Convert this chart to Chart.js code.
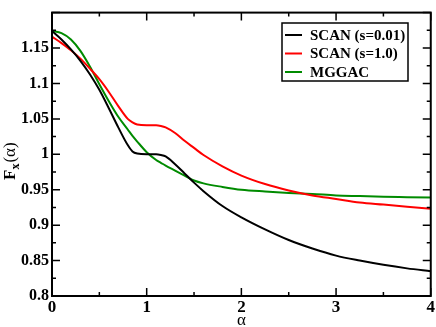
<!DOCTYPE html>
<html>
<head>
<meta charset="utf-8">
<script src="https://cdn.jsdelivr.net/npm/chart.js@4"></script>
<style>
  html, body { margin: 0; padding: 0; background: #fff; }
  canvas { display: block; }
</style>
</head>
<body>
<canvas id="fx" width="436" height="327"></canvas>
<script>
// alpha grid shared by all three curves
var alpha = [0, 0.1, 0.2, 0.3, 0.4, 0.5, 0.6, 0.7, 0.8, 0.85, 0.9, 1.0, 1.1, 1.15, 1.2,
  1.3, 1.4, 1.5, 1.6, 1.8, 2.0, 2.25, 2.5, 2.75, 3.0, 3.25, 3.5, 3.75, 4.0];

// F_x(alpha)
var scanLow = [1.174, 1.162, 1.148, 1.132, 1.113, 1.091, 1.065, 1.038, 1.013, 1.004, 1.001, 1.000, 1.000, 0.999, 0.997,
  0.986, 0.973, 0.960, 0.948, 0.927, 0.911, 0.894, 0.879, 0.867, 0.857, 0.850, 0.844, 0.839, 0.835];
var scanHigh = [1.166, 1.157, 1.147, 1.135, 1.121, 1.106, 1.088, 1.068, 1.050, 1.045, 1.042, 1.041, 1.041, 1.040, 1.038,
  1.030, 1.019, 1.009, 0.999, 0.983, 0.970, 0.958, 0.949, 0.942, 0.937, 0.932, 0.929, 0.926, 0.923];
var mggac = [1.174, 1.171, 1.162, 1.146, 1.124, 1.099, 1.075, 1.053, 1.035, 1.026, 1.018, 1.003, 0.992, 0.988, 0.984,
  0.977, 0.970, 0.963, 0.959, 0.954, 0.950, 0.9475, 0.9455, 0.944, 0.942, 0.941, 0.940, 0.9395, 0.939];

var seriesNames = ['SCAN (s=0.01)', 'SCAN (s=1.0)', 'MGGAC'];
var seriesColors = ['#000000', '#ff0000', '#008b00'];

var serif = "'Liberation Serif', 'Times New Roman', serif";

function pairs(ys) {
  return alpha.map(function (a, i) { return { x: a, y: ys[i] }; });
}

// frame, inward ticks on all four sides, legend box and y title
var decorations = {
  id: 'decorations',
  afterDraw: function (chart) {
    var ctx = chart.ctx;
    var area = chart.chartArea;
    var xs = chart.scales.x, ys = chart.scales.y;
    ctx.save();
    ctx.strokeStyle = '#000';
    ctx.lineWidth = 2;
    ctx.strokeRect(area.left, area.top, area.right - area.left, area.bottom - area.top);

    ctx.lineWidth = 1.5;
    ctx.beginPath();
    var v, p;
    for (v = 0; v <= 4.0001; v += 0.5) {
      p = xs.getPixelForValue(v);
      var lx = (Math.abs(v - Math.round(v)) < 1e-6) ? 8 : 4;
      ctx.moveTo(p, area.bottom); ctx.lineTo(p, area.bottom - lx);
      ctx.moveTo(p, area.top); ctx.lineTo(p, area.top + lx);
    }
    for (var k = 0; k <= 16; k++) {
      v = 0.8 + k * 0.025;
      p = ys.getPixelForValue(v);
      var ly = (k % 2 === 0) ? 8 : 4;
      ctx.moveTo(area.left, p); ctx.lineTo(area.left + ly, p);
      ctx.moveTo(area.right, p); ctx.lineTo(area.right - ly, p);
    }
    ctx.stroke();

    // legend
    ctx.lineWidth = 1.5;
    ctx.strokeRect(282, 23, 126, 58);
    ctx.font = 'bold 15px ' + serif;
    ctx.textBaseline = 'middle';
    ctx.textAlign = 'left';
    chart.data.datasets.forEach(function (ds, i) {
      var yy = 35 + i * 18.5;
      ctx.strokeStyle = ds.borderColor;
      ctx.lineWidth = 2;
      ctx.beginPath();
      ctx.moveTo(285, yy); ctx.lineTo(302, yy);
      ctx.stroke();
      ctx.fillStyle = '#000';
      ctx.fillText(ds.label, 310, yy + 1);
    });

    // y axis title F_x(alpha)
    ctx.translate(15, 180);
    ctx.rotate(-Math.PI / 2);
    ctx.fillStyle = '#000';
    ctx.textBaseline = 'alphabetic';
    ctx.font = 'bold 17px ' + serif;
    ctx.fillText('F', 0, 0);
    var w = ctx.measureText('F').width;
    ctx.font = 'bold 12px ' + serif;
    ctx.fillText('x', w, 4);
    w += ctx.measureText('x').width + 1;
    ctx.font = '17px ' + serif;
    ctx.fillText('(α)', w, 0);
    ctx.restore();

    // x axis title
    ctx.save();
    ctx.fillStyle = '#000';
    ctx.font = '17px ' + serif;
    ctx.textAlign = 'center';
    ctx.textBaseline = 'alphabetic';
    ctx.fillText('α', (area.left + area.right) / 2, 325);
    ctx.restore();
  }
};

new Chart(document.getElementById('fx'), {
  type: 'line',
  data: {
    datasets: [
      { label: seriesNames[0], data: pairs(scanLow), borderColor: seriesColors[0] },
      { label: seriesNames[1], data: pairs(scanHigh), borderColor: seriesColors[1] },
      { label: seriesNames[2], data: pairs(mggac), borderColor: seriesColors[2] }
    ]
  },
  options: {
    responsive: false,
    animation: false,
    devicePixelRatio: 1,
    layout: { padding: { top: 2, right: 5, left: 0, bottom: 0 } },
    elements: {
      line: { borderWidth: 2, cubicInterpolationMode: 'monotone', fill: false },
      point: { radius: 0 }
    },
    plugins: { legend: { display: false }, tooltip: { enabled: false } },
    scales: {
      x: {
        type: 'linear', min: 0, max: 4,
        grid: { display: false, drawTicks: false },
        border: { display: false },
        ticks: { stepSize: 1, padding: 1, color: '#000', font: { family: serif, size: 17, weight: 'bold' } },
        afterFit: function (s) { s.height = 31; }
      },
      y: {
        min: 0.8, max: 1.2,
        grid: { display: false, drawTicks: false },
        border: { display: false },
        ticks: {
          stepSize: 0.05, padding: 3, color: '#000',
          font: { family: serif, size: 16, weight: 'bold' },
          callback: function (v) { return v > 1.19 ? '' : String(+v.toFixed(3)); }
        },
        afterFit: function (s) { s.width = 52; }
      }
    }
  },
  plugins: [decorations]
});
</script>
</body>
</html>
